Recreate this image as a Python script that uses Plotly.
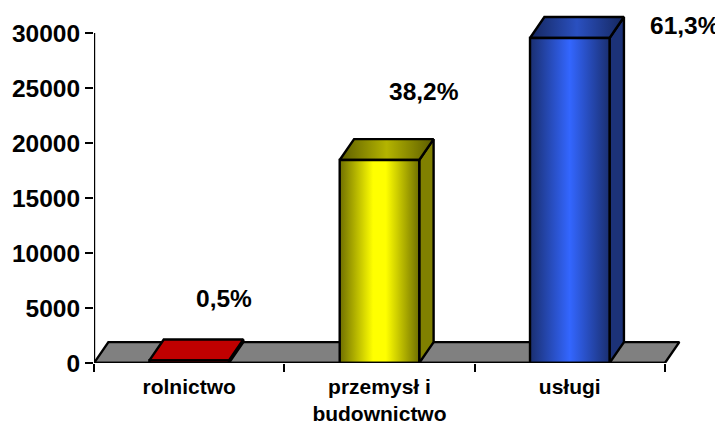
import plotly.graph_objects as go

categories = ["rolnictwo", "przemysł i<br>budownictwo", "usługi"]
values = [240, 18450, 29550]
labels = ["0,5%", "38,2%", "61,3%"]
y_ticks = [0, 5000, 10000, 15000, 20000, 25000, 30000]

front_scales = [
    [[0, "#c00000"], [1, "#c00000"]],
    [[0, "#6f6f00"], [0.42, "#ffff00"], [0.58, "#ffff00"], [1, "#6f6f00"]],
    [[0, "#1a2f70"], [0.5, "#3366ff"], [1, "#1a2f70"]],
]
top_scales = [
    [[0, "#c00000"], [1, "#c00000"]],
    [[0, "#5c5c00"], [0.5, "#b4b400"], [1, "#5c5c00"]],
    [[0, "#15275e"], [0.5, "#2a50c0"], [1, "#15275e"]],
]
side_colors = ["#800000", "#808000", "#1c3278"]

BAR_W = 0.418
DX = 0.0755
DY = 1900
LINE = dict(color="black", width=2.4)

fig = go.Figure()


def poly(xs, ys, **kw):
    fig.add_trace(go.Scatter(x=xs + xs[:1], y=ys + ys[:1], mode="lines", fill="toself",
                             line=LINE, cliponaxis=False, hoverinfo="skip",
                             showlegend=False, **kw))


# floor
poly([0, 3, 3 + DX, DX], [0, 0, DY, DY], fillcolor="#808080")

for i, v in enumerate(values):
    c = i + 0.5
    l, r = c - BAR_W / 2, c + BAR_W / 2
    poly([r, r + DX, r + DX, r], [0, DY, v + DY, v], fillcolor=side_colors[i])
    poly([l, r, r + DX, l + DX], [v, v, v + DY, v + DY],
         fillgradient=dict(type="horizontal", colorscale=top_scales[i]))
    poly([l, r, r, l], [0, 0, v, v],
         fillgradient=dict(type="horizontal", colorscale=front_scales[i]))

# axis lines, limited to the span of the ticks
fig.add_trace(go.Scatter(x=[0, 0], y=[0, 30000], mode="lines", line=LINE,
                         cliponaxis=False, hoverinfo="skip", showlegend=False))
fig.add_trace(go.Scatter(x=[0, 3], y=[0, 0], mode="lines", line=LINE,
                         cliponaxis=False, hoverinfo="skip", showlegend=False))

label_x = [0.685, 1.735, 3.105]
label_y = [5820, 24650, 30650]
annotations = [
    dict(x=x, y=y, text=t, showarrow=False, xanchor="center", yanchor="middle",
         font=dict(size=24.5, family="Liberation Sans", color="black"))
    for x, y, t in zip(label_x, label_y, ["<b>%s</b>" % s for s in labels])
]

# the page body adds an 8 px margin, so the figure is 8 px smaller than the window
fig.update_layout(
    width=715, height=415,
    margin=dict(l=86, r=20, t=3, b=60, autoexpand=False),
    paper_bgcolor="white", plot_bgcolor="white",
    showlegend=False,
    annotations=annotations,
    xaxis=dict(
        range=[0, 3.2], tickvals=[0.5, 1.5, 2.5],
        ticktext=["<b>%s</b>" % s for s in categories],
        ticks="", showgrid=False, zeroline=False, showline=False, automargin=False,
        ticklabelstandoff=9,
        tickfont=dict(size=21, family="Liberation Sans", color="black"),
        minor=dict(tickvals=[0, 1, 2, 3], ticks="outside", ticklen=8, tickwidth=2.4,
                   tickcolor="black", showgrid=False),
    ),
    yaxis=dict(
        range=[0, 32000], tickvals=y_ticks,
        ticktext=["<b>%d</b>" % t for t in y_ticks],
        ticks="outside", ticklen=8, tickwidth=2.4, tickcolor="black",
        showgrid=False, zeroline=False, showline=False, automargin=False,
        tickfont=dict(size=24.5, family="Liberation Sans", color="black"),
    ),
)

fig.write_html("out.html")
